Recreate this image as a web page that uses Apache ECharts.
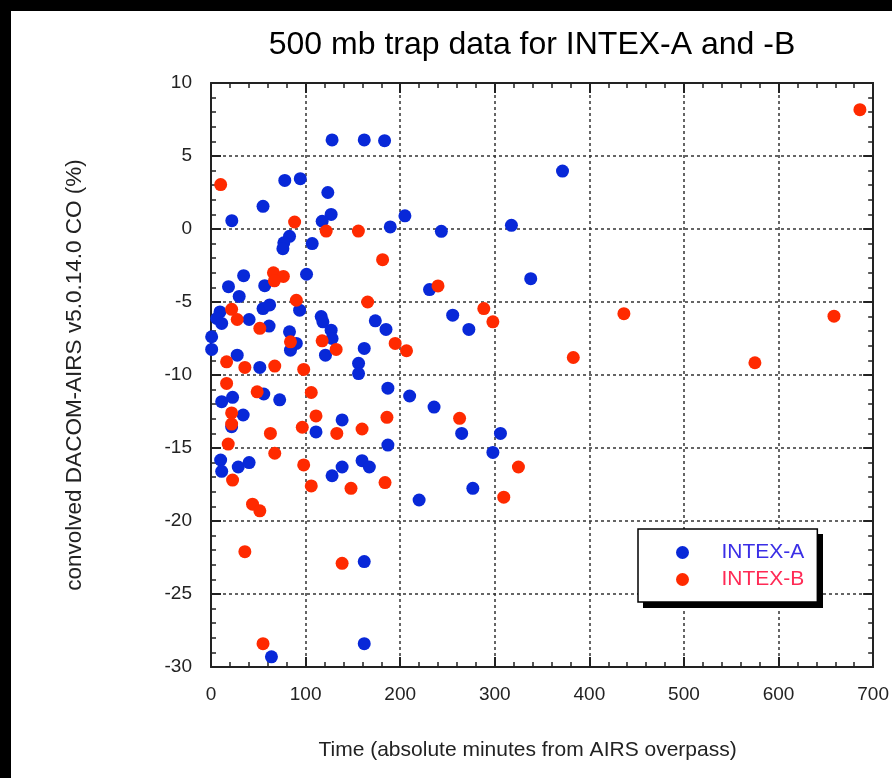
<!DOCTYPE html>
<html>
<head>
<meta charset="utf-8">
<script src="https://cdn.jsdelivr.net/npm/echarts@6/dist/echarts.min.js"></script>
<style>
html,body{margin:0;padding:0;background:#fff;}
#chart{width:892px;height:778px;}
</style>
</head>
<body>
<div id="chart"></div>
<script>
const chartTitle = '500 mb trap data for INTEX-A and -B';
const xName = 'Time (absolute minutes from AIRS overpass)';
const yName = 'convolved DACOM-AIRS v5.0.14.0 CO (%)';
const seriesNames = ['INTEX-A', 'INTEX-B'];
const xTicks = [0, 700, 100];
const yTicks = [-30, 10, 5];

const intexA = [
  [128, 6.1], [162, 6.1], [183.5, 6.05], [78, 3.33], [94.4, 3.45], [123.5, 2.5],
  [55, 1.55], [22, 0.57], [127, 1.0], [117.5, 0.53], [189.5, 0.14], [83, -0.5],
  [77, -0.95], [76, -1.35], [107, -1.0], [34.5, -3.2], [101, -3.1], [18.5, -3.95],
  [56.8, -3.88], [29.8, -4.62], [205, 0.9], [243.5, -0.16], [317.6, 0.25], [371.6, 3.97],
  [338, -3.4], [231, -4.15], [255.5, -5.9], [272.6, -6.88], [9.5, -5.68], [6, -6.13],
  [11.3, -6.47], [40.3, -6.2], [55, -5.45], [62, -5.2], [61.4, -6.65], [93.7, -5.56],
  [0.7, -7.38], [0.7, -8.25], [83, -7.04], [90.2, -7.84], [84, -8.3], [116.5, -6.0],
  [118.3, -6.36], [127, -6.93], [128, -7.5], [121, -8.64], [162, -8.18], [173.7, -6.29],
  [185, -6.88], [156, -9.2], [156, -9.9], [187, -10.9], [27.7, -8.64], [51.6, -9.48],
  [55.8, -11.3], [72.6, -11.7], [11.3, -11.83], [22.8, -11.53], [34, -12.74], [21.8, -13.54],
  [138.6, -13.08], [111, -13.9], [187, -14.8], [210, -11.44], [235.8, -12.2], [265, -14.0],
  [306, -14.0], [298, -15.3], [276.8, -17.76], [220, -18.56], [10.2, -15.82], [11.3, -16.6],
  [28.8, -16.3], [40.3, -16.0], [128, -16.9], [138.6, -16.3], [159.7, -15.87], [167.4, -16.3],
  [162, -22.78], [63.9, -29.3], [162, -28.4]
];

const intexB = [
  [10.2, 3.04], [88.4, 0.48], [121.8, -0.14], [155.8, -0.14], [181.4, -2.1], [66, -3.0],
  [76.5, -3.25], [67, -3.55], [90.2, -4.88], [165.6, -5.0], [240, -3.9], [288.4, -5.45],
  [298, -6.36], [21.8, -5.5], [27.7, -6.2], [51.6, -6.8], [84, -7.73], [117.5, -7.66],
  [132.3, -8.25], [194.7, -7.84], [206.7, -8.34], [383, -8.8], [436.5, -5.8], [16.5, -9.1],
  [35.8, -9.48], [67.4, -9.39], [98, -9.62], [16.5, -10.58], [48.8, -11.15], [106, -11.2],
  [21.8, -12.6], [21.8, -13.36], [111, -12.8], [96.5, -13.58], [133, -14.0], [159.7, -13.7],
  [186, -12.9], [262.8, -12.97], [62.8, -14.0], [18.2, -14.73], [67.4, -15.36], [22.8, -17.2],
  [98, -16.16], [106, -17.6], [148, -17.76], [184, -17.37], [325, -16.3], [309.5, -18.37],
  [43.9, -18.85], [51.6, -19.3], [35.8, -22.1], [138.6, -22.9], [55, -28.4], [686, 8.17],
  [658.6, -5.97], [575, -9.16]
];

const colorA = '#0828d8';
const colorB = '#ff2a00';
const FONT = "'Liberation Sans', Arial, Helvetica, sans-serif";

const chart = echarts.init(document.getElementById('chart'), null, {renderer: 'canvas'});

function makeAxis(base, opts) {
  return Object.assign({
    type: 'value',
    min: base[0], max: base[1], interval: base[2],
    axisLine: {show: true, onZero: false, lineStyle: {color: '#222', width: 2}},
    axisTick: {show: true, inside: true, length: 10, lineStyle: {color: '#222', width: 2}},
    minorTick: {show: true, splitNumber: 5, length: 5, lineStyle: {color: '#222', width: 1.5}},
    splitLine: {show: false},
    axisLabel: {show: false}
  }, opts);
}

const labelStyle = {show: true, color: '#222', fontFamily: FONT, fontSize: 19};
const gridLine = {show: true, lineStyle: {color: '#333', width: 1.5, type: [3, 3]}};

chart.setOption({
  backgroundColor: '#fff',
  animation: false,
  title: {
    text: chartTitle,
    left: 532, top: 29, textAlign: 'center', padding: 0,
    textStyle: {fontFamily: FONT, fontSize: 32, fontWeight: 'normal', color: '#000'}
  },
  graphic: [
    {type: 'rect', left: 0, top: 0, shape: {width: 892, height: 11}, style: {fill: '#000'}, z: 100},
    {type: 'rect', left: 0, top: 0, shape: {width: 11, height: 778}, style: {fill: '#000'}, z: 100},
    {type: 'rect', left: 643, top: 534, shape: {width: 180, height: 74}, style: {fill: '#000'}, z: 3}
  ],
  grid: {left: 211, right: 16, top: 83, bottom: 111, containLabel: false},
  legend: {
    orient: 'vertical',
    left: 638, top: 529,
    padding: [13, 13, 12, 38],
    itemWidth: 14, itemHeight: 13, itemGap: 6,
    icon: 'circle',
    backgroundColor: '#fff',
    borderColor: '#000', borderWidth: 1.5,
    z: 5,
    textStyle: {fontFamily: FONT, fontSize: 21, padding: [0, 0, 0, 27]},
    data: [
      {name: seriesNames[0], textStyle: {color: '#3b2fe6'}},
      {name: seriesNames[1], textStyle: {color: '#ff2a55'}}
    ]
  },
  xAxis: [
    makeAxis(xTicks, {
      position: 'bottom',
      axisLabel: Object.assign({margin: 18}, labelStyle),
      splitLine: gridLine,
      name: xName, nameLocation: 'middle', nameGap: 73,
      nameTextStyle: {fontFamily: FONT, fontSize: 21, color: '#222', padding: [0, 29, 0, 0]}
    }),
    makeAxis(xTicks, {position: 'top'})
  ],
  yAxis: [
    makeAxis(yTicks, {
      position: 'left',
      axisLabel: Object.assign({margin: 19}, labelStyle),
      splitLine: gridLine,
      name: yName, nameLocation: 'middle', nameGap: 125,
      nameTextStyle: {fontFamily: FONT, fontSize: 22.5, color: '#222'}
    }),
    makeAxis(yTicks, {position: 'right'})
  ],
  series: [
    {
      name: seriesNames[0], type: 'scatter', data: intexA,
      xAxisIndex: 0, yAxisIndex: 0,
      symbol: 'circle', symbolSize: 13,
      itemStyle: {color: colorA, opacity: 1}
    },
    {
      name: seriesNames[1], type: 'scatter', data: intexB,
      xAxisIndex: 0, yAxisIndex: 0,
      symbol: 'circle', symbolSize: 13,
      itemStyle: {color: colorB, opacity: 1}
    }
  ]
});
</script>
</body>
</html>
